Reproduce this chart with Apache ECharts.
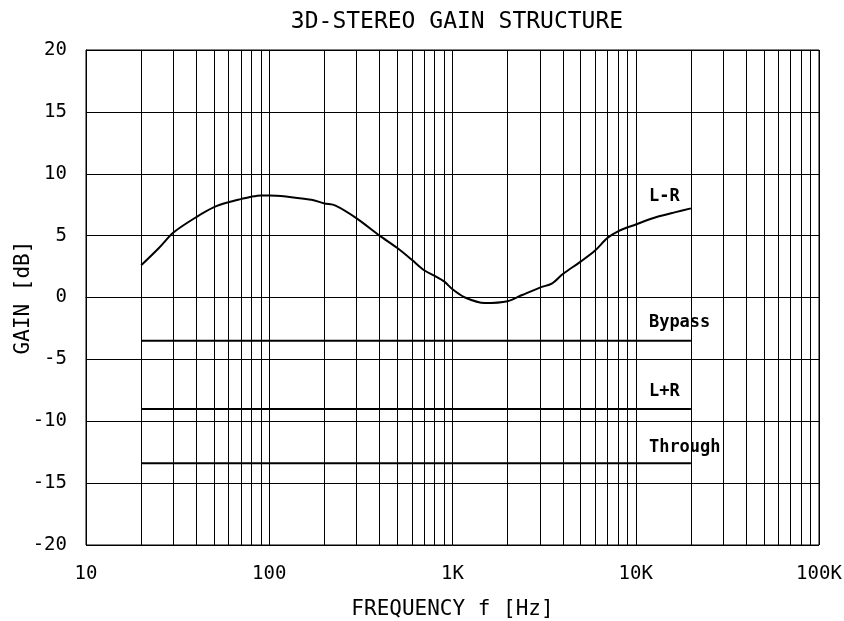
<!DOCTYPE html>
<html>
<head>
<meta charset="utf-8">
<script src="https://cdn.jsdelivr.net/npm/echarts@6/dist/echarts.min.js"></script>
<style>
  html, body { margin: 0; padding: 0; background: #fff; }
  #chart { width: 844px; height: 621px; }
</style>
</head>
<body>
<div id="chart"></div>
<script>
// L-R response
var lrFreq = [20, 25, 30, 40, 50, 60, 70, 80, 90, 100, 170, 200, 230, 300, 400, 500, 600, 700, 800, 900, 1000, 1170, 1500, 2000, 2400, 3000, 3500, 4000, 5000, 6000, 7000, 8000, 10000, 13000, 16500, 20000];
var lrGain = [2.6, 4.0, 5.25, 6.5, 7.3, 7.7, 7.95, 8.15, 8.25, 8.25, 7.9, 7.6, 7.43, 6.4, 5.0, 4.0, 3.05, 2.2, 1.75, 1.3, 0.66, 0, -0.45, -0.3, 0.2, 0.8, 1.15, 1.9, 2.9, 3.8, 4.8, 5.35, 5.9, 6.5, 6.9, 7.2];

// flat paths
var flatFreq = [20, 20000];
var bypassGain = -3.5;
var sumGain = -9;
var throughGain = -13.4;

// log paper lines between decades
var minorFreqs = [];
[10, 100, 1000, 10000].forEach(function (d) {
    for (var k = 2; k <= 9; k++) minorFreqs.push(d * k);
});

var font = "'DejaVu Sans Mono', monospace";

function pairs(xs, ys) {
    return xs.map(function (x, i) { return [x, Array.isArray(ys) ? ys[i] : ys]; });
}

function flatSeries(name, gain, offset) {
    return {
        name: name,
        type: 'line',
        data: pairs(flatFreq, gain),
        showSymbol: false,
        silent: true,
        lineStyle: { color: '#000', width: 2 },
        endLabel: {
            show: true,
            formatter: name,
            color: '#000',
            fontFamily: font,
            fontWeight: 'bold',
            fontSize: 17,
            offset: offset
        }
    };
}

var chartDom = document.getElementById('chart');
var myChart = echarts.init(chartDom);

var option = {
    animation: false,
    backgroundColor: '#fff',
    title: {
        text: '3D-STEREO GAIN STRUCTURE',
        left: 452,
        top: 6,
        textAlign: 'center',
        textStyle: { fontFamily: font, fontWeight: 'normal', fontSize: 23, color: '#000' }
    },
    grid: {
        left: 86, right: 25, top: 50, bottom: 76,
        outerBoundsMode: 'none',
        containLabel: false,
        show: true, borderColor: '#000', borderWidth: 1
    },
    xAxis: {
        type: 'log',
        logBase: 10,
        min: 10,
        max: 100000,
        name: 'FREQUENCY f [Hz]',
        nameLocation: 'middle',
        nameGap: 54,
        nameMoveOverlap: false,
        nameTextStyle: { fontFamily: font, fontSize: 21, color: '#000' },
        axisLine: { lineStyle: { color: '#000' } },
        axisTick: { show: false },
        axisLabel: {
            margin: 20,
            fontFamily: font, fontSize: 19, color: '#000',
            formatter: function (v) { return v >= 1000 ? (v / 1000) + 'K' : String(v); }
        },
        splitLine: { show: true, lineStyle: { color: '#000', width: 1 } }
    },
    yAxis: {
        type: 'value',
        min: -20,
        max: 20,
        interval: 5,
        name: 'GAIN [dB]',
        nameLocation: 'middle',
        nameGap: 52,
        nameMoveOverlap: false,
        nameTextStyle: { fontFamily: font, fontSize: 21, color: '#000' },
        axisLine: { show: true, lineStyle: { color: '#000' } },
        axisTick: { show: false },
        axisLabel: { margin: 19, fontFamily: font, fontSize: 19, color: '#000' },
        splitLine: { show: true, lineStyle: { color: '#000', width: 1 } }
    },
    series: [
        {
            name: 'L-R',
            type: 'line',
            data: pairs(lrFreq, lrGain),
            smooth: 0.3,
            showSymbol: false,
            silent: true,
            lineStyle: { color: '#000', width: 2 },
            endLabel: {
                show: true,
                formatter: 'L-R',
                color: '#000',
                fontFamily: font,
                fontWeight: 'bold',
                fontSize: 17,
                offset: [-50, -12]
            },
            markLine: {
                silent: true,
                symbol: 'none',
                label: { show: false },
                lineStyle: { color: '#000', width: 1, type: 'solid' },
                data: minorFreqs.map(function (f) { return { xAxis: f }; })
            }
        },
        flatSeries('Bypass', bypassGain, [-50, -18]),
        flatSeries('L+R', sumGain, [-50, -17]),
        flatSeries('Through', throughGain, [-50, -16])
    ]
};

myChart.setOption(option);

window.addEventListener('resize', function () {
    myChart.resize();
});
</script>
</body>
</html>
